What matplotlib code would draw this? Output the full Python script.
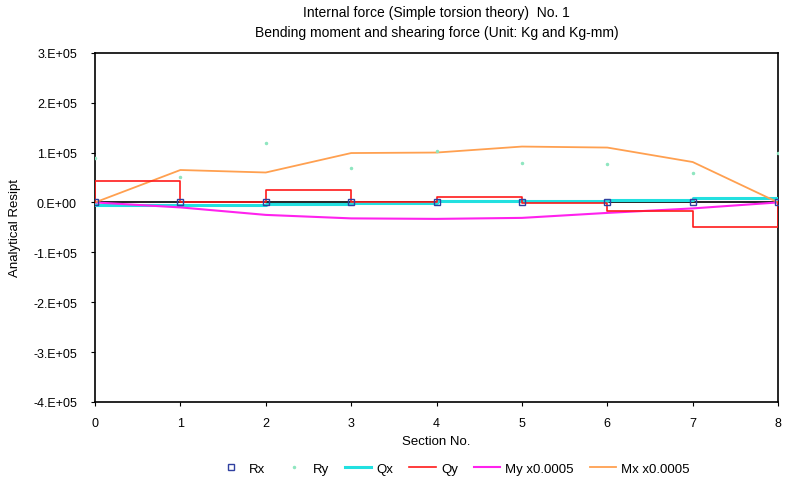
import matplotlib
matplotlib.use("Agg")
import matplotlib.pyplot as plt
import numpy as np

plt.rcParams['font.family'] = ['Liberation Sans', 'DejaVu Sans']

# Section numbers
sections = [0, 1, 2, 3, 4, 5, 6, 7, 8]

# Reaction forces at each section
rx = [0, 0, 0, 0, 0, 0, 0, 0, 0]
ry = [90000, 50000, 120000, 70000, 103000, 80000, 78000, 58000, 100000]

# Shearing forces per segment (between section i and i+1)
qx_seg = [-5000, -4500, -4000, -2000, 2000, 3000, 5000, 8000]
qy_seg = [42000, 0, 25000, 0, 10000, -2000, -17000, -50000]

# Bending moments (scaled x0.0005)
my = [0, -10000, -25000, -32000, -33000, -31000, -21000, -12000, 0]
mx = [0, 65000, 60000, 99000, 100000, 112000, 110000, 81000, 0]

yticks = [300000, 200000, 100000, 0, -100000, -200000, -300000, -400000]
ytick_labels = ["3.E+05", "2.E+05", "1.E+05", "0.E+00",
                "-1.E+05", "-2.E+05", "-3.E+05", "-4.E+05"]


def step_path(seg):
    xs, ys = [sections[0]], [0]
    for i, v in enumerate(seg):
        xs += [sections[i], sections[i + 1]]
        ys += [v, v]
    xs.append(sections[-1])
    ys.append(0)
    return xs, ys


fig = plt.figure(figsize=(7.87, 4.89), dpi=100)
ax = fig.add_axes([0.1207, 0.176, 0.868, 0.714])

ax.axhline(0, color='black', lw=1.2, zorder=1)

qx_x, qx_y = step_path(qx_seg)
qy_x, qy_y = step_path(qy_seg)

ax.plot(sections, rx, ls='none', marker='s', ms=4, mfc='none',
        mec='#3040a0', mew=1, label='Rx', zorder=6)
ax.plot(sections, ry, ls='none', marker='.', ms=3, color='#8fe6c0',
        label='Ry', zorder=5)
ax.plot(qx_x, qx_y, color='#22e0e0', lw=2.2, label='Qx', zorder=3)
ax.plot(qy_x, qy_y, color='#ff1a1a', lw=1.2, label='Qy', zorder=4)
ax.plot(sections, my, color='#ff22ee', lw=1.5, label='My x0.0005', zorder=3)
ax.plot(sections, mx, color='#ffa050', lw=1.3, label='Mx x0.0005', zorder=3)

ax.set_xlim(0, 8)
ax.set_ylim(-400000, 300000)
ax.set_xticks(sections)
ax.set_yticks(yticks)
ax.set_yticklabels(ytick_labels)
ax.tick_params(axis='both', labelsize=9, length=3, colors='black')
ax.tick_params(axis='x', pad=8)
ax.tick_params(axis='y', pad=10)
for s in ax.spines.values():
    s.set_color('black')
    s.set_linewidth(1.2)

ax.set_xlabel("Section No.", fontsize=9.5, labelpad=4)
ax.set_ylabel("Analytical Resipt", fontsize=9.5, labelpad=9)
fig.text(0.555, 0.974, "Internal force (Simple torsion theory)  No. 1",
         ha='center', va='center', fontsize=10)
fig.text(0.555, 0.932, "Bending moment and shearing force (Unit: Kg and Kg-mm)",
         ha='center', va='center', fontsize=10)

ax.legend(loc='upper center', bbox_to_anchor=(0.525, -0.14), ncol=6,
          frameon=False, fontsize=9.5, handlelength=2.0, columnspacing=1.2,
          handletextpad=0.4)

fig.savefig("out.png", dpi=100)
